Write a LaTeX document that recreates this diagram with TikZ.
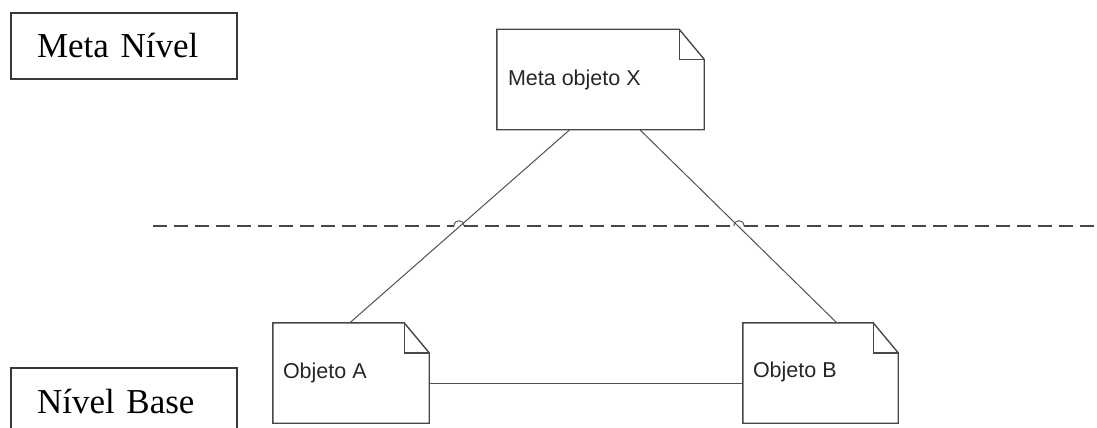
\documentclass[tikz,border=0pt]{standalone}
\usepackage{fontspec}
\setmainfont{Liberation Serif}
\newfontfamily\notefont{Liberation Sans}
\usetikzlibrary{calc}
\tikzset{
  levelbox/.style={draw=black!78, line width=1.4pt, fill=white,
    font=\fontsize{35}{40}\selectfont, text width=174pt, align=left,
    inner xsep=26pt, minimum height=66pt},
  notebox/.style={draw=none, inner sep=0pt, minimum height=100pt},
  outline/.style={draw=black!72, line width=1.4pt, line join=miter},
  notetext/.style={font=\notefont\fontsize{21.5}{24}\selectfont, text=black!85,
    anchor=west, inner sep=0pt},
  link/.style={draw=black!68, line width=1pt},
  divider/.style={draw=black!72, line width=1.5pt, dash pattern=on 14pt off 7pt},
  hop/.style={draw=black!65, line width=1pt}
}
% note shape with a folded top-right corner
\newcommand\dogear[1]{%
  \draw[outline] (#1.north west) -- ([xshift=-25pt]#1.north east)
    -- ([yshift=-30pt]#1.north east) -- (#1.south east) -- (#1.south west) -- cycle;
  \draw[outline] ([xshift=-25pt]#1.north east) |- ([yshift=-30pt]#1.north east);}
\begin{document}
\begin{tikzpicture}[x=1pt,y=-1pt]
\useasboundingbox (0,0) rectangle (1097,428);
\clip (0,0) rectangle (1097,428);
\fill[white] (0,0) rectangle (1097,428);

% level labels
\node[levelbox] (meta) at (124,46) {Meta Nível};
\node[levelbox] (base) at (124,401) {Nível Base};

% objects
\node[notebox, minimum width=207pt] (mx) at (600.5,79.5) {};
\node[notebox, minimum width=156pt] (oa) at (351,373) {};
\node[notebox, minimum width=155pt] (ob) at (820.5,373) {};
\dogear{mx}
\dogear{oa}
\dogear{ob}
\node[notetext] (tmx) at ($(mx.west)+(11,0)$) {Meta objeto X};
\node[notetext] (toa) at ($(oa.west)+(10,0)$) {Objeto A};
\node[notetext] (tob) at ($(ob.west)+(10,-1)$) {Objeto B};

% divider between the two levels, hopping over the links
\coordinate (d0) at (153,226);
\coordinate (h1a) at (454,226);
\coordinate (h1b) at (464,226);
\coordinate (h2a) at (734,226);
\coordinate (h2b) at (744,226);
\coordinate (d1) at (1097,226);
\draw[divider] (d0) -- (h1a);
\draw[divider] (h1b) -- (h2a);
\draw[divider] (h2b) -- (d1);
\draw[hop] (h1a) .. controls ($(h1a)+(0,-7)$) and ($(h1b)+(0,-7)$) .. (h1b);
\draw[hop] (h2a) .. controls ($(h2a)+(0,-7)$) and ($(h2b)+(0,-7)$) .. (h2b);

% links
\draw[link] ($(mx.south west)+(73,0)$) -- ($(oa.north west)+(77,0)$);
\draw[link] ($(mx.south west)+(143,0)$) -- ($(ob.north west)+(94,0)$);
\draw[link] ($(oa.east)+(0,10)$) -- ($(ob.west)+(0,10)$);
\end{tikzpicture}
\end{document}
